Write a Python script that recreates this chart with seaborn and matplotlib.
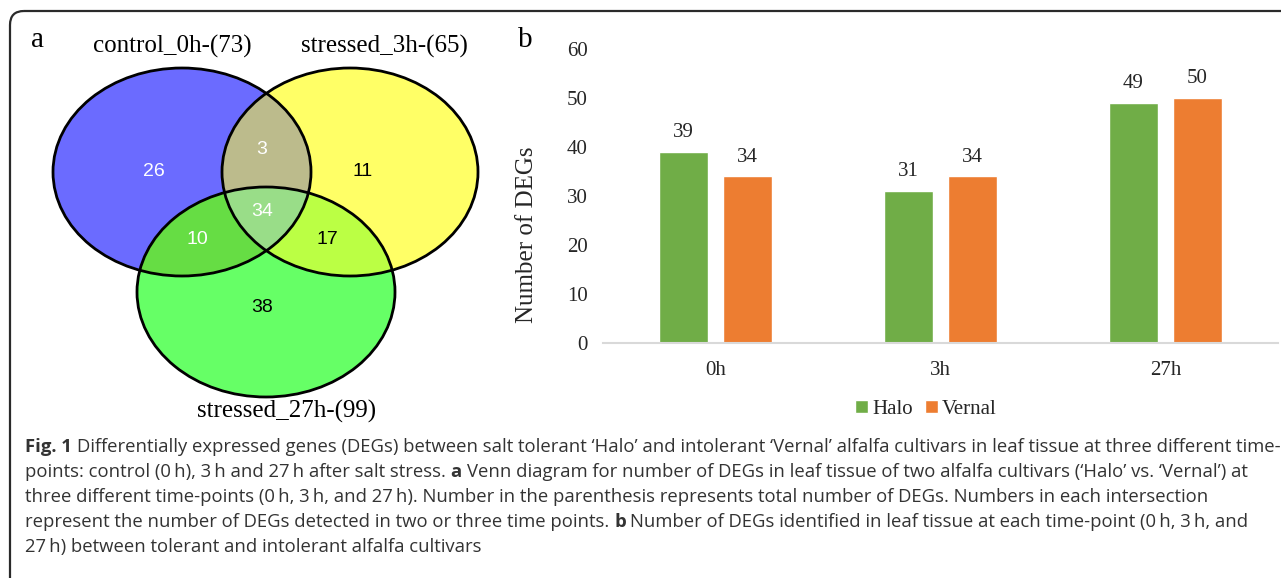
import numpy as np
import pandas as pd
import matplotlib
matplotlib.use('Agg')
import matplotlib.pyplot as plt
import seaborn as sns
from matplotlib.patches import Ellipse, Polygon, FancyBboxPatch
from matplotlib import font_manager

# ---------------- data ----------------
time_points = ['0h', '3h', '27h']
halo_counts = [39, 31, 49]
vernal_counts = [34, 34, 50]
cultivars = ['Halo', 'Vernal']
y_ticks = [0, 10, 20, 30, 40, 50, 60]
bar_colors = ['#70AD47', '#ED7D31']

venn_set_labels = ['control_0h-(73)', 'stressed_3h-(65)', 'stressed_27h-(99)']
# regions: only A, only B, only C, A&B, A&C, B&C, A&B&C
venn_region_counts = ['26', '11', '38', '3', '10', '17', '34']
venn_region_text_colors = ['white', 'black', 'black', 'white', 'white', 'black', 'white']
venn_region_fill = ['#6b6bff', '#ffff66', '#66ff66', '#bcbb8c', '#66dd44', '#bbff44', '#99dd88']

caption_lines = [
    [("Fig. 1", True), ("Differentially expressed genes (DEGs) between salt tolerant \u2018Halo\u2019 and intolerant \u2018Vernal\u2019 alfalfa cultivars in leaf tissue at three different time-", False)],
    [("points: control (0\u2009h), 3\u2009h and 27\u2009h after salt stress.", False), ("a", True), ("Venn diagram for number of DEGs in leaf tissue of two alfalfa cultivars (\u2018Halo\u2019 vs. \u2018Vernal\u2019) at", False)],
    [("three different time-points (0\u2009h, 3\u2009h, and 27\u2009h). Number in the parenthesis represents total number of DEGs. Numbers in each intersection", False)],
    [("represent the number of DEGs detected in two or three time points.", False), ("b", True), ("Number of DEGs identified in leaf tissue at each time-point (0\u2009h, 3\u2009h, and", False)],
    [("27\u2009h) between tolerant and intolerant alfalfa cultivars", False)],
]

# ---------------- setup ----------------
W, H = 1281, 578
sns.set_theme(style='white')
plt.rcParams['font.family'] = ['Liberation Serif', 'DejaVu Serif']
fig = plt.figure(figsize=(W / 100, H / 100), dpi=100)
fig.patch.set_facecolor('white')

ax0 = fig.add_axes([0, 0, 1, 1])
ax0.set_xlim(0, W)
ax0.set_ylim(H, 0)
ax0.axis('off')

# border
border = FancyBboxPatch((10, 11), 1600, 900, boxstyle='round,pad=0,rounding_size=14',
                        fill=False, edgecolor='#2a2a2a', linewidth=1.6, transform=ax0.transData)
ax0.add_patch(border)

# ---------------- Venn ----------------
centers = [(182, 172), (350, 172), (266, 292)]
axes_wh = [(258, 208), (256, 208), (258, 210)]


def ellipse_poly(c, wh, n=720):
    t = np.linspace(0, 2 * np.pi, n, endpoint=False)
    return np.column_stack([c[0] + wh[0] / 2 * np.cos(t), c[1] + wh[1] / 2 * np.sin(t)])


def clip_convex(subject, clipper):
    def inside(p, a, b):
        return (b[0] - a[0]) * (p[1] - a[1]) - (b[1] - a[1]) * (p[0] - a[0]) >= 0

    def inter(p1, p2, a, b):
        x1, y1 = p1; x2, y2 = p2; x3, y3 = a; x4, y4 = b
        den = (x1 - x2) * (y3 - y4) - (y1 - y2) * (x3 - x4)
        tt = ((x1 - x3) * (y3 - y4) - (y1 - y3) * (x3 - x4)) / den
        return (x1 + tt * (x2 - x1), y1 + tt * (y2 - y1))

    out = [tuple(p) for p in subject]
    m = len(clipper)
    for i in range(m):
        a, b = clipper[i], clipper[(i + 1) % m]
        inp = out
        out = []
        if not inp:
            break
        s = inp[-1]
        for e in inp:
            if inside(e, a, b):
                if not inside(s, a, b):
                    out.append(inter(s, e, a, b))
                out.append(e)
            elif inside(s, a, b):
                out.append(inter(s, e, a, b))
            s = e
    return np.array(out)


def make_ell(i, **kw):
    e = Ellipse(centers[i], axes_wh[i][0], axes_wh[i][1], **kw)
    e.set_transform(ax0.transData)
    return e

for i in range(3):
    ax0.add_patch(make_ell(i, facecolor=venn_region_fill[i], edgecolor='none', zorder=2))
for (i, j), col in zip([(0, 1), (0, 2), (1, 2)], venn_region_fill[3:6]):
    p = make_ell(j, facecolor=col, edgecolor='none', zorder=3)
    ax0.add_patch(p)
    p.set_clip_path(make_ell(i))
polyA = ellipse_poly(centers[0], axes_wh[0])
polyB = ellipse_poly(centers[1], axes_wh[1])
ab = clip_convex(polyA, polyB)
tri = Polygon(ab, closed=True, facecolor=venn_region_fill[6], edgecolor='none', zorder=4)
ax0.add_patch(tri)
tri.set_clip_path(make_ell(2))
for i in range(3):
    ax0.add_patch(make_ell(i, facecolor='none', edgecolor='black', linewidth=2.0, zorder=5))

region_pos = [(154, 172), (363, 172), (262, 308), (262, 149), (197, 240), (327, 240), (262, 212)]
for (x, y), s, c in zip(region_pos, venn_region_counts, venn_region_text_colors):
    ax0.text(x, y, s, ha='center', va='center', color=c, fontsize=14,
             family=['Liberation Sans', 'DejaVu Sans'], zorder=6)

label_pos = [(172, 46), (384, 46), (287, 411)]
for (x, y), s in zip(label_pos, venn_set_labels):
    ax0.text(x, y, s, ha='center', va='center', fontsize=18, color='black', zorder=6)

ax0.text(38, 40, 'a', ha='center', va='center', fontsize=21, color='black')
ax0.text(525, 40, 'b', ha='center', va='center', fontsize=21, color='black')

# ---------------- bar chart ----------------
df = pd.DataFrame({
    'time': time_points * 2,
    'count': halo_counts + vernal_counts,
    'cultivar': [cultivars[0]] * len(time_points) + [cultivars[1]] * len(time_points),
})
ax = fig.add_axes([603 / W, 1 - 343 / H, 675 / W, 294 / H])
ax.patch.set_alpha(0)
sns.barplot(data=df, x='time', y='count', hue='cultivar', order=time_points,
            hue_order=cultivars, palette=bar_colors, width=0.569, gap=0.22,
            saturation=1, errorbar=None, ax=ax)
ax.set_xlim(-0.5, 2.5)
ax.set_ylim(0, 60)
ax.set_yticks(y_ticks)
ax.set_xlabel('')
ax.set_ylabel('Number of DEGs', fontsize=18)
ax.yaxis.set_label_coords(-0.096, 0.367)
for c in ax.containers:
    ax.bar_label(c, padding=7, fontsize=15)
for s in ['left', 'top', 'right']:
    ax.spines[s].set_visible(False)
ax.spines['bottom'].set_color('#d9d9d9')
ax.spines['bottom'].set_linewidth(1.5)
ax.tick_params(axis='both', length=0, labelsize=15)
ax.tick_params(axis='y', pad=11)
ax.tick_params(axis='x', pad=13)
handles, labels = ax.get_legend_handles_labels()
ax.legend(handles, labels, loc='center', bbox_to_anchor=(926 / W, 1 - 409 / H),
          bbox_transform=fig.transFigure, ncol=2, frameon=False, fontsize=15,
          handlelength=0.6, handleheight=0.6, handletextpad=0.2, columnspacing=0.6,
          borderaxespad=0)

# ---------------- caption ----------------
names = {f.name for f in font_manager.fontManager.ttflist}
cap_family = 'Liberation Sans Narrow' if 'Liberation Sans Narrow' in names else 'Open Sans'
renderer = fig.canvas.get_renderer()


def text_width(s, size, bold):
    t = ax0.text(0, 0, s, fontsize=size, family=cap_family, fontweight='bold' if bold else 'normal')
    w = t.get_window_extent(renderer).width
    t.remove()
    return w


def line_width(segs, size):
    sp = text_width('a a', size, False) - text_width('aa', size, False)
    return sum(text_width(s, size, b) for s, b in segs) + sp * (len(segs) - 1)

base = 12.0
target = 1275 - 25
size = base * target / line_width(caption_lines[0], base)
space = text_width('a a', size, False) - text_width('aa', size, False)
ys = [447, 472, 497, 522, 547]
for segs, y in zip(caption_lines, ys):
    x = 25
    for s, b in segs:
        t = ax0.text(x, y, s, fontsize=size, family=cap_family,
                     fontweight='bold' if b else 'normal', color='#333333',
                     ha='left', va='center')
        x += t.get_window_extent(renderer).width + space

fig.savefig('out.png', dpi=100)
